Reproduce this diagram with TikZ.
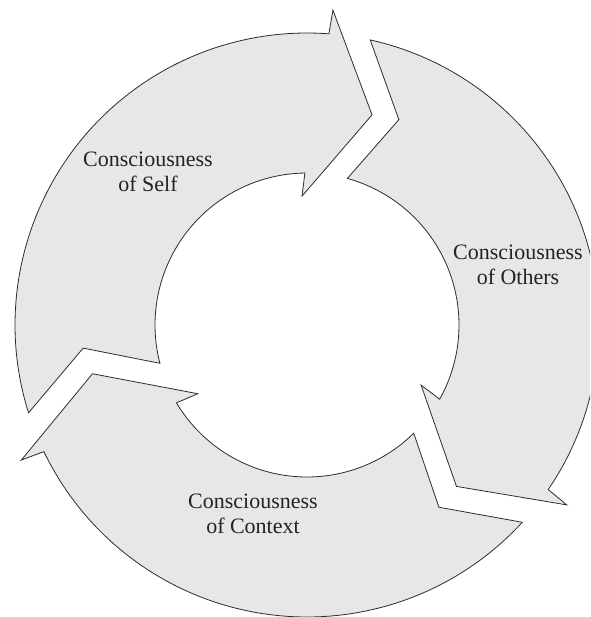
\documentclass[tikz,border=0pt]{standalone}
\usepackage{fontspec}
\setmainfont{Liberation Serif}
\tikzset{
  cyclearrow/.style={fill=arrowgray, draw=edgegray, line width=0.8pt, line join=miter},
  cyclelabel/.style={align=center, text=textgray, font=\fontsize{22}{25}\selectfont, inner sep=0pt}
}
\definecolor{arrowgray}{RGB}{230,231,233}
\definecolor{edgegray}{RGB}{45,45,45}
\definecolor{textgray}{RGB}{35,35,35}
\newcommand{\cyclepiece}{%
  (197.5:292pt) arc[start angle=197.5, end angle=85.7, radius=292pt]
  -- (85.3:316pt) -- (72.8:220pt) -- (92.2:129pt) -- (90.8:152pt)
  arc[start angle=90.8, end angle=194.6, radius=152pt]
  -- (185.9:225pt) -- cycle}
\begin{document}
\begin{tikzpicture}
\useasboundingbox (0pt,0pt) rectangle (590pt,-617pt);
\clip (0pt,0pt) rectangle (590pt,-617pt);
\fill[white] (0pt,0pt) rectangle (590pt,-617pt);
\coordinate (center) at (307pt,-325pt);
\foreach \k in {0,1,2}{
  \begin{scope}[shift={(center)}, rotate=-120*\k]
    \path[cyclearrow] \cyclepiece;
  \end{scope}
}
\node[cyclelabel] (self) at (148pt,-172pt) {Consciousness\\of Self};
\node[cyclelabel] (others) at (518pt,-265pt) {Consciousness\\of Others};
\node[cyclelabel] (context) at (253pt,-514pt) {Consciousness\\of Context};
\end{tikzpicture}
\end{document}
